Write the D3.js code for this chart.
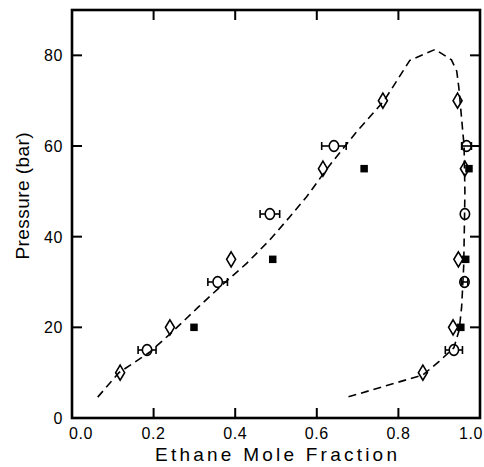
<!DOCTYPE html>
<html>
<head>
<meta charset="utf-8">
<script src="https://cdn.jsdelivr.net/npm/d3@7"></script>
<style>
  body { margin: 0; background: #fff; }
  svg { display: block; font-family: "Liberation Sans", Arial, sans-serif; }
</style>
</head>
<body>
<div id="chart"></div>
<script>
// dashed phase envelope (x = ethane mole fraction, P in bar)
const curveX = [0.063, 0.115, 0.19, 0.24, 0.31, 0.37, 0.428, 0.485, 0.534, 0.575, 0.625, 0.673, 0.698, 0.765, 0.828, 0.89, 0.93, 0.943, 0.948, 0.955, 0.961, 0.963, 0.962, 0.96, 0.955, 0.949, 0.936, 0.90, 0.86, 0.675];
const curveP = [4.6, 10, 14.5, 18.5, 24.5, 29.5, 34.1, 39.3, 44.4, 48.8, 55, 60.4, 63.2, 70, 78.9, 81.3, 79, 76.5, 73, 66, 60, 50, 43.7, 33.4, 24.5, 19.4, 15.5, 12.5, 9.5, 4.6];

// open diamonds
const diamondX = [0.118, 0.24, 0.39, 0.615, 0.762, 0.86, 0.934, 0.947, 0.963, 0.945];
const diamondP = [10, 20, 35, 55, 70, 10, 20, 35, 55, 70];

// open circles with horizontal error bars
const circleX = [0.184, 0.357, 0.485, 0.642, 0.936, 0.962, 0.963, 0.967];
const circleP = [15, 30, 45, 60, 15, 30, 45, 60];
const circleErr = [0.022, 0.024, 0.024, 0.03, 0.021, 0.008, 0, 0.012];

// filled squares
const squareX = [0.299, 0.492, 0.716, 0.953, 0.965, 0.973];
const squareP = [20, 35, 55, 20, 35, 55];

const xTicks = [0, 0.2, 0.4, 0.6, 0.8, 1.0];
const yTicks = [0, 20, 40, 60, 80];

const W = 484, H = 467;
const margin = { top: 10, right: 4, bottom: 49, left: 72 };
const width = W - margin.left - margin.right;
const height = H - margin.top - margin.bottom;

const svg = d3.select('#chart').append('svg')
    .attr('width', W).attr('height', H);

const g = svg.append('g')
    .attr('transform', `translate(${margin.left},${margin.top})`);

const x = d3.scaleLinear().domain([0, 1]).range([0, width]);
const y = d3.scaleLinear().domain([0, 90]).range([height, 0]);

// ticks inside on all four sides
const tickLen = 10;
const tk = g.append('g').attr('stroke', '#000').attr('stroke-width', 2);
xTicks.slice(1, -1).forEach(t => {
    tk.append('line').attr('x1', x(t)).attr('x2', x(t)).attr('y1', height).attr('y2', height - tickLen);
    tk.append('line').attr('x1', x(t)).attr('x2', x(t)).attr('y1', 0).attr('y2', tickLen);
});
yTicks.slice(1).forEach(t => {
    tk.append('line').attr('x1', 0).attr('x2', tickLen).attr('y1', y(t)).attr('y2', y(t));
    tk.append('line').attr('x1', width).attr('x2', width - tickLen).attr('y1', y(t)).attr('y2', y(t));
});

// tick labels (first and last nudged in so they stay on the page)
const last = xTicks.length - 1;
g.selectAll('.xl').data(xTicks).join('text')
    .attr('class', 'xl')
    .attr('x', (d, i) => i === 0 ? x(d) + 9 : i === last ? W - margin.left - 1 : x(d))
    .attr('y', height + 21)
    .attr('text-anchor', (d, i) => i === last ? 'end' : 'middle')
    .attr('font-size', 16)
    .attr('letter-spacing', 0.6)
    .text(d => d.toFixed(1));

g.selectAll('.yl').data(yTicks).join('text')
    .attr('class', 'yl')
    .attr('x', -9)
    .attr('y', d => y(d) + 6)
    .attr('text-anchor', 'end')
    .attr('font-size', 16)
    .attr('letter-spacing', 0.6)
    .text(d => d);

// axis titles
svg.append('text')
    .attr('x', margin.left + width / 2)
    .attr('y', 461)
    .attr('text-anchor', 'middle')
    .attr('font-size', 19)
    .attr('textLength', 242)
    .attr('lengthAdjust', 'spacing')
    .text('Ethane Mole Fraction');

svg.append('text')
    .attr('transform', 'translate(29,196) rotate(-90)')
    .attr('text-anchor', 'middle')
    .attr('font-size', 19)
    .attr('textLength', 127)
    .attr('lengthAdjust', 'spacing')
    .text('Pressure (bar)');

// dashed curve
const line = d3.line().x(d => x(d[0])).y(d => y(d[1]));
g.append('path')
    .datum(curveX.map((v, i) => [v, curveP[i]]))
    .attr('d', line)
    .attr('fill', 'none')
    .attr('stroke', '#000')
    .attr('stroke-width', 1.6)
    .attr('stroke-dasharray', '8,5');

// diamonds
const dw = 4.5, dh = 7.5;
g.selectAll('.dia').data(diamondX.map((v, i) => [v, diamondP[i]])).join('path')
    .attr('class', 'dia')
    .attr('d', d => {
        const cx = x(d[0]), cy = y(d[1]);
        return `M${cx},${cy - dh}L${cx + dw},${cy}L${cx},${cy + dh}L${cx - dw},${cy}Z`;
    })
    .attr('fill', 'none')
    .attr('stroke', '#000')
    .attr('stroke-width', 1.6);

// circles + error bars
const r = 5, cap = 4;
const circ = g.selectAll('.circ').data(circleX.map((v, i) => [v, circleP[i], circleErr[i]])).join('g')
    .attr('class', 'circ')
    .attr('stroke', '#000')
    .attr('stroke-width', 1.6)
    .attr('fill', 'none');
circ.each(function(d) {
    const s = d3.select(this);
    const cx = x(d[0]), cy = y(d[1]);
    const lo = x(d[0] - d[2]), hi = x(d[0] + d[2]);
    if (d[2] > 0) {
        if (hi - cx > r) {
            s.append('line').attr('x1', lo).attr('x2', cx - r).attr('y1', cy).attr('y2', cy);
            s.append('line').attr('x1', cx + r).attr('x2', hi).attr('y1', cy).attr('y2', cy);
        } else {
            s.append('line').attr('x1', lo).attr('x2', hi).attr('y1', cy).attr('y2', cy);
        }
        s.append('line').attr('x1', lo).attr('x2', lo).attr('y1', cy - cap).attr('y2', cy + cap);
        s.append('line').attr('x1', hi).attr('x2', hi).attr('y1', cy - cap).attr('y2', cy + cap);
    }
    s.append('ellipse').attr('cx', cx).attr('cy', cy).attr('rx', r - 0.3).attr('ry', r + 0.4);
});

// squares
const sq = 7.5;
g.selectAll('.sq').data(squareX.map((v, i) => [v, squareP[i]])).join('rect')
    .attr('class', 'sq')
    .attr('x', d => x(d[0]) - sq / 2)
    .attr('y', d => y(d[1]) - sq / 2)
    .attr('width', sq).attr('height', sq)
    .attr('fill', '#000');

// frame
g.append('rect')
    .attr('x', 0).attr('y', 0)
    .attr('width', width).attr('height', height)
    .attr('fill', 'none')
    .attr('stroke', '#000')
    .attr('stroke-width', 2.6);
</script>
</body>
</html>
